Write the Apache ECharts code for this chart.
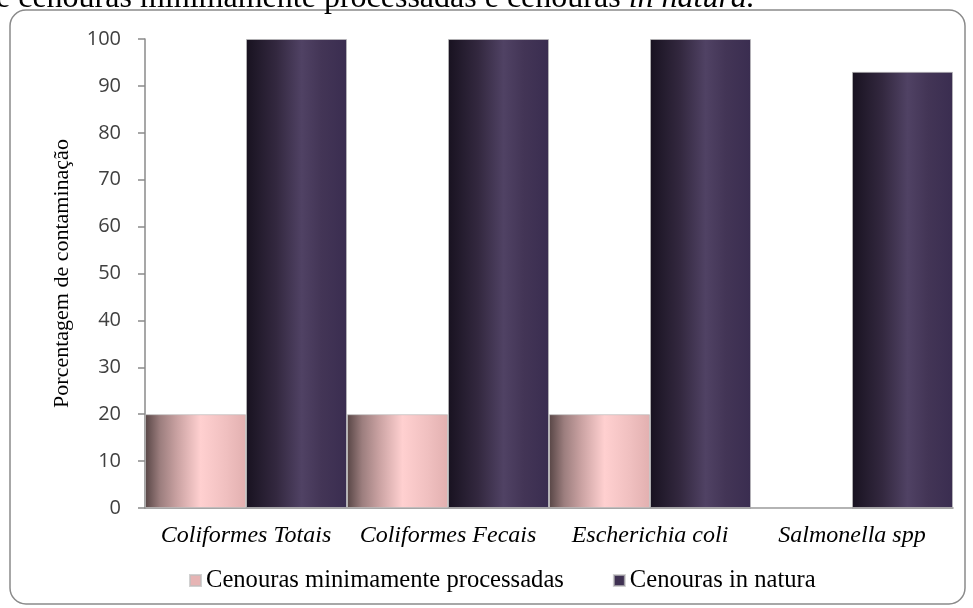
<!DOCTYPE html>
<html>
<head>
<meta charset="utf-8">
<script src="https://cdn.jsdelivr.net/npm/echarts@6/dist/echarts.min.js"></script>
<style>html,body{margin:0;padding:0;background:#fff}#c{width:973px;height:608px}</style>
</head>
<body>
<div id="c"></div>
<script>
const categories = ['Coliformes Totais', 'Coliformes Fecais', 'Escherichia coli', 'Salmonella spp'];
const seriesNames = ['Cenouras minimamente processadas', 'Cenouras in natura'];
const minimamente = [20, 20, 20, 0];
const inNatura = [100, 100, 100, 93];
const yTicks = [0, 10, 20, 30, 40, 50, 60, 70, 80, 90, 100];

const pinkGrad = new echarts.graphic.LinearGradient(0, 0, 1, 0, [
  {offset: 0, color: '#574545'},
  {offset: 0.15, color: '#9c7e7e'},
  {offset: 0.32, color: '#caa2a2'},
  {offset: 0.55, color: '#ffd0d0'},
  {offset: 0.8, color: '#f0c0c0'},
  {offset: 1, color: '#e2b0b0'}
]);
const purpleGrad = new echarts.graphic.LinearGradient(0, 0, 1, 0, [
  {offset: 0, color: '#181220'},
  {offset: 0.3, color: '#33283f'},
  {offset: 0.55, color: '#504264'},
  {offset: 0.75, color: '#433556'},
  {offset: 1, color: '#3a2d50'}
]);

const chart = echarts.init(document.getElementById('c'), null, {renderer: 'canvas'});
chart.setOption({
  animation: false,
  graphic: [
    {type: 'rect', shape: {x: 10, y: 10, width: 955, height: 594, r: 16},
     style: {fill: 'none', stroke: '#8a8a8a', lineWidth: 1.5}, z: -1},
    {type: 'text', x: -4, y: 15,
     style: {verticalAlign: 'bottom', align: 'left',
             rich: {n: {fontFamily: 'Liberation Serif', fontSize: 32, fill: '#000'},
                    i: {fontFamily: 'Liberation Serif', fontSize: 32, fontStyle: 'italic', fill: '#000'}},
             text: '{n|e cenouras minimamente processadas e cenouras }{i|in natura.}'}}
  ],
  grid: {left: 145, right: 20, top: 39, bottom: 100},
  legend: {
    top: 563, left: 184, itemGap: 49,
    icon: 'rect', itemWidth: 11, itemHeight: 11,
    textStyle: {fontFamily: 'Liberation Serif', fontSize: 24.6, color: '#000', padding: [0, 0, 0, 0]},
    data: [
      {name: seriesNames[0], itemStyle: {color: '#e6b4b4'}},
      {name: seriesNames[1], itemStyle: {color: '#3f3152'}}
    ]
  },
  xAxis: {
    type: 'category', data: categories,
    axisLine: {lineStyle: {color: '#8a8a8a', width: 1.5}},
    axisTick: {show: false},
    axisLabel: {interval: 0, fontFamily: 'Liberation Serif', fontStyle: 'italic', fontSize: 24, color: '#000', margin: 16}
  },
  yAxis: {
    type: 'value', min: 0, max: 100, interval: 10,
    name: 'Porcentagem de contaminação', nameLocation: 'middle', nameGap: 72,
    nameTextStyle: {fontFamily: 'Liberation Serif', fontSize: 22, color: '#000'},
    axisLine: {show: true, lineStyle: {color: '#8a8a8a', width: 1.5}},
    axisTick: {show: true, length: 7, lineStyle: {color: '#8a8a8a', width: 1.5}},
    splitLine: {show: false},
    axisLabel: {fontFamily: 'Open Sans', fontSize: 20, color: '#404040', margin: 24,
      formatter: v => yTicks.includes(v) ? String(v) : ''}
  },
  series: [
    {name: seriesNames[0], type: 'bar', data: minimamente, barGap: '0%', barCategoryGap: '0%',
     itemStyle: {color: pinkGrad, borderColor: 'rgba(190,190,190,0.7)', borderWidth: 1}},
    {name: seriesNames[1], type: 'bar', data: inNatura, barGap: '0%', barCategoryGap: '0%',
     itemStyle: {color: purpleGrad, borderColor: 'rgba(190,190,190,0.7)', borderWidth: 1}}
  ]
});
</script>
</body>
</html>
